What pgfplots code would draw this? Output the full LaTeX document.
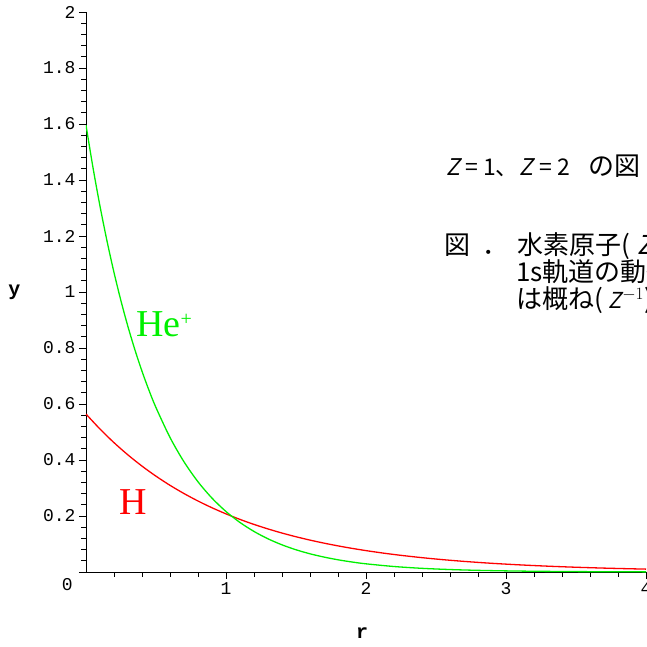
\documentclass[border=0pt]{standalone}
\usepackage{fontspec}
\usepackage{pgfplots}
\pgfplotsset{compat=1.18}
\setmainfont{Liberation Serif}
\newfontfamily\tickfont{Liberation Mono}
\newfontfamily\jp{Noto Sans CJK JP}
\newfontfamily\jpsl[FakeSlant=0.2]{Noto Sans CJK JP}
\definecolor{hgreen}{RGB}{0,240,0}
\definecolor{hred}{RGB}{255,0,0}
\begin{document}
\begin{tikzpicture}[x=1pt,y=1pt]
\begin{axis}[
  scale only axis, width=560pt, height=560pt,
  xmin=0, xmax=4, ymin=0, ymax=2,
  axis x line*=bottom, axis y line*=left,
  axis line style={black, line width=0.9pt},
  tick align=outside,
  major tick length=7pt, minor tick length=4.5pt,
  every tick/.style={black, line width=0.9pt},
  xtick={1,2,3,4},
  xticklabels={1,2,3,4},
  minor xtick={0.2,0.4,0.6,0.8,1.2,1.4,1.6,1.8,2.2,2.4,2.6,2.8,3.2,3.4,3.6,3.8},
  ytick={0,0.2,0.4,0.6,0.8,1,1.2,1.4,1.6,1.8,2},
  yticklabels={,0.2,0.4,0.6,0.8,1,1.2,1.4,1.6,1.8,2},
  minor ytick={0.04,0.08,0.12,0.16,0.24,0.28,0.32,0.36,0.44,0.48,0.52,0.56,0.64,0.68,0.72,0.76,0.84,0.88,0.92,0.96,1.04,1.08,1.12,1.16,1.24,1.28,1.32,1.36,1.44,1.48,1.52,1.56,1.64,1.68,1.72,1.76,1.84,1.88,1.92,1.96},
  /pgf/number format/assume math mode=true,
  tick label style={font=\tickfont\fontsize{18}{18}\selectfont},
  xlabel={r}, ylabel={y},
  label style={font=\tickfont\bfseries\fontsize{20}{20}\selectfont},
  xlabel style={at={(axis description cs:0.493,-0.109)}, anchor=center},
  ylabel style={rotate=-90, at={(axis description cs:-0.128,0.5)}, anchor=center},
]
\addplot[hred, line width=1.3pt, smooth] coordinates {
(0,0.5642)(0.1,0.5105)(0.2,0.4619)(0.3,0.4180)(0.4,0.3782)(0.5,0.3422)
(0.6,0.3096)(0.7,0.2802)(0.8,0.2535)(0.9,0.2294)(1.0,0.2076)(1.1,0.1878)
(1.2,0.1699)(1.3,0.1538)(1.4,0.1391)(1.5,0.1259)(1.6,0.1139)(1.7,0.1031)
(1.8,0.0933)(1.9,0.0844)(2.0,0.0764)(2.1,0.0691)(2.2,0.0625)(2.3,0.0566)
(2.4,0.0512)(2.5,0.0463)(2.6,0.0419)(2.7,0.0379)(2.8,0.0343)(2.9,0.0310)
(3.0,0.0281)(3.1,0.0254)(3.2,0.0230)(3.3,0.0208)(3.4,0.0188)(3.5,0.0170)
(3.6,0.0154)(3.7,0.0139)(3.8,0.0126)(3.9,0.0114)(4.0,0.0103)};
\addplot[hgreen, line width=1.3pt, smooth] coordinates {
(0,1.5958)(0.05,1.4440)(0.1,1.3065)(0.15,1.1822)(0.2,1.0697)(0.25,0.9679)
(0.3,0.8758)(0.35,0.7925)(0.4,0.7170)(0.45,0.6488)(0.5,0.5871)(0.6,0.4806)
(0.7,0.3935)(0.8,0.3222)(0.9,0.2638)(1.0,0.2160)(1.1,0.1768)(1.2,0.1448)
(1.3,0.1185)(1.4,0.0970)(1.5,0.0794)(1.6,0.0650)(1.7,0.0533)(1.8,0.0436)
(1.9,0.0357)(2.0,0.0292)(2.2,0.0196)(2.4,0.0131)(2.6,0.0088)(2.8,0.0059)
(3.0,0.0040)(3.2,0.0027)(3.4,0.0018)(3.6,0.0012)(3.8,0.0008)(4.0,0.0005)};
\end{axis}
\begin{scope}[shift={(-86,-75)}]
% origin label
\node[anchor=east, inner sep=0pt, font=\tickfont\fontsize{18}{18}\selectfont] at (73,62) {0};
% curve labels
\node[anchor=base west, inner sep=0pt, text=hgreen, font=\fontsize{38}{38}\selectfont] at (136,310) {He\raisebox{11pt}{\fontsize{20}{20}\selectfont +}};
\node[anchor=base west, inner sep=0pt, text=hred, font=\fontsize{38}{38}\selectfont] at (119,132) {H};
% right-hand text
\node[anchor=base west, inner sep=0pt, font=\jp\fontsize{23}{23}\selectfont] at (446,471)
  {\makebox[19pt][l]{\jpsl Z}\makebox[18pt][l]{=}\makebox[12pt][l]{1}\makebox[24pt][l]{、}\makebox[20pt][l]{\jpsl Z}\makebox[18pt][l]{=}\makebox[31pt][l]{2}{\fontsize{26}{26}\selectfont の図}};
\node[anchor=base west, inner sep=0pt, font=\jp\fontsize{26}{26}\selectfont] at (444,392)
  {\makebox[38pt][l]{図}\makebox[35pt][l]{．}水素原子(\hspace{8pt}{\jpsl Z}=1)と};
\node[anchor=base west, inner sep=0pt, font=\jp\fontsize{26}{26}\selectfont] at (516,365) {1s軌道の動径分布関数};
\node[anchor=base west, inner sep=0pt, font=\jp\fontsize{26}{26}\selectfont] at (516,338) {は概ね(\hspace{6pt}{\jpsl\fontsize{22}{22}\selectfont Z}$^{-1}$)};
\pgfresetboundingbox
\useasboundingbox (0,0) rectangle (647,647);
\end{scope}
\end{tikzpicture}
\end{document}
